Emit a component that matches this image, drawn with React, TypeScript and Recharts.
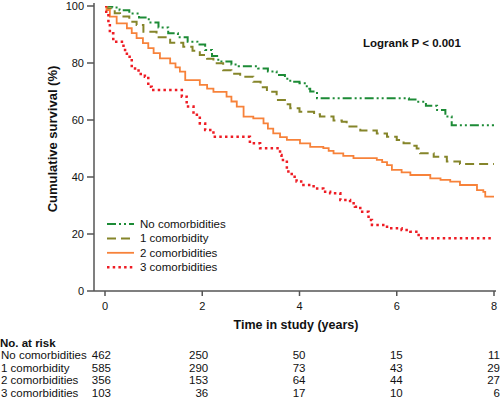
import React from 'react';
import { LineChart, Line, XAxis, YAxis, Legend, Customized } from 'recharts';

const FONT = '"Liberation Sans", Arial, sans-serif';

const seriesNames = ['No comorbidities', '1 comorbidity', '2 comorbidities', '3 comorbidities'];
const seriesColors = ['#1c8b36', '#85852a', '#f7823a', '#ee1c24'];
const seriesDashes = ['9 3 2 3 2 3', '9 5', undefined, '2.5 3.2'];
const seriesWidths = [2, 2, 1.8, 2.5];

const timesNone = [0, 0.15, 0.3, 0.5, 0.7, 0.9, 1.1, 1.3, 1.5, 1.7, 1.9, 2.06, 2.2, 2.33, 2.6, 2.75, 3.15, 3.35, 3.53, 3.7, 3.81, 4.0, 4.15, 4.22, 4.36, 6.25, 6.41, 6.6, 6.83, 7.0, 7.13, 8];
const survNone = [100, 99.5, 98.5, 97.4, 96, 94.2, 92.5, 90.4, 89, 87.5, 86.5, 84.6, 82.5, 80.5, 79.5, 78.9, 78.1, 77, 75.8, 74.5, 73.4, 72.9, 71, 70, 67.6, 67.2, 66.4, 65, 63.5, 61.2, 58.2, 58.2];

const timesOne = [0, 0.05, 0.2, 0.31, 0.5, 0.65, 0.79, 1.06, 1.34, 1.61, 1.8, 1.95, 2.1, 2.23, 2.43, 2.6, 2.78, 3.05, 3.2, 3.33, 3.53, 3.7, 3.81, 4.0, 4.3, 4.42, 4.7, 4.87, 4.97, 5.25, 5.59, 5.8, 6.0, 6.14, 6.3, 6.41, 6.48, 6.76, 7.03, 7.3, 8];
const survOne = [100, 99.2, 97.5, 96.3, 94.5, 93.3, 91, 89, 87.1, 85.7, 84.3, 82.8, 81.5, 79.9, 77.5, 76.2, 75.2, 73.4, 71.5, 69.9, 67, 65.5, 64.1, 62.9, 62, 61.2, 59.8, 59.4, 57.7, 56.3, 55.3, 54.1, 53, 51.8, 51, 50, 48.3, 47.1, 45.4, 44.6, 44.6];

const timesTwo = [0, 0.03, 0.1, 0.24, 0.45, 0.55, 0.65, 0.78, 0.89, 1.0, 1.13, 1.34, 1.45, 1.54, 1.65, 1.95, 2.1, 2.23, 2.5, 2.6, 2.71, 2.85, 3.05, 3.26, 3.35, 3.46, 3.6, 3.74, 4.01, 4.22, 4.49, 4.6, 4.7, 4.9, 5.11, 5.59, 5.7, 5.8, 5.9, 6.1, 6.28, 6.69, 6.9, 7.1, 7.3, 7.65, 7.78, 7.82, 8];
const survTwo = [100, 98.6, 96.3, 93.9, 92.2, 90.5, 88.7, 87, 85.2, 83.5, 81.6, 79.9, 78.5, 77, 74, 72.3, 71, 69.9, 68.2, 66.5, 64.7, 61.2, 60.6, 58.8, 57, 55.3, 54, 53, 51.8, 50.6, 50.1, 49.2, 48.3, 47.4, 46.6, 46, 45.2, 44.2, 42.5, 41.6, 40.7, 39.5, 39, 38.4, 37.2, 35.4, 34.8, 33.1, 33.1];

const timesThree = [0, 0.02, 0.07, 0.1, 0.17, 0.38, 0.45, 0.55, 0.69, 0.82, 0.89, 0.96, 1.58, 1.68, 1.82, 1.95, 2.06, 2.23, 2.98, 3.19, 3.6, 3.63, 3.74, 3.84, 3.94, 4.08, 4.29, 4.49, 4.63, 4.84, 5.04, 5.14, 5.25, 5.42, 5.49, 5.8, 6.1, 6.28, 6.45, 8];
const survThree = [100, 98, 93.9, 90.4, 87.5, 84.6, 82.2, 78.1, 76.1, 75.2, 71.7, 70.5, 68.2, 64.7, 61.8, 58.8, 56.5, 54.1, 51.8, 50.1, 47.7, 46, 41.9, 40.1, 38.4, 37.2, 36, 34.8, 34.3, 31.9, 30.8, 29.6, 27.8, 24.9, 23.2, 22, 21.4, 20.8, 18.5, 18.5];

const yearTicks = [0, 2, 4, 6, 8];
const survivalTicks = [0, 20, 40, 60, 80, 100];

const riskNone = [462, 250, 50, 15, 11];
const riskOne = [585, 290, 73, 43, 29];
const riskTwo = [356, 153, 64, 44, 27];
const riskThree = [103, 36, 17, 10, 6];

const riskRows = [riskNone, riskOne, riskTwo, riskThree];
const riskTable = yearTicks.map((t, i) => ({ t, r0: riskNone[i], r1: riskOne[i], r2: riskTwo[i], r3: riskThree[i] }));

const seriesData = [
  [timesNone, survNone],
  [timesOne, survOne],
  [timesTwo, survTwo],
  [timesThree, survThree],
].map(([ts, ss]) => ts.map((t, i) => ({ t, s: ss[i] })));

const xPadding = { left: 11, right: 2 };

const makeRiskTick = (row: number) => (props: any) => {
  const { x, y, payload, index } = props;
  const idx = yearTicks.indexOf(Number(payload.value));
  return (
    <g>
      {index === 0 && (
        <text x={1} y={y + 11} fontSize={11.5} fontFamily={FONT} fill="#111" textAnchor="start">
          {seriesNames[row]}
        </text>
      )}
      <text x={x + 6} y={y + 11} fontSize={11.5} fontFamily={FONT} fill="#111" textAnchor="end">
        {riskRows[row][idx]}
      </text>
    </g>
  );
};

const LegendContent = () => (
  <svg width={200} height={62}>
    {seriesNames.map((name, i) => {
      const cy = 9 + i * 14.4;
      return (
        <g key={name}>
          <line
            x1={7}
            x2={34}
            y1={cy}
            y2={cy}
            stroke={seriesColors[i]}
            strokeWidth={seriesWidths[i]}
            strokeDasharray={seriesDashes[i]}
          />
          <text x={40} y={cy + 4} fontSize={11.5} fontFamily={FONT} fill="#111">
            {name}
          </text>
        </g>
      );
    })}
  </svg>
);

const Annotations = () => (
  <g fontFamily={FONT}>
    <text x={363} y={47} fontSize={11.5} fontWeight="bold" fill="#111">
      Logrank P &lt; 0.001
    </text>
    <text x={296} y={329} fontSize={12.5} fontWeight="bold" fill="#111" textAnchor="middle">
      Time in study (years)
    </text>
    <text x={0} y={347} fontSize={11.5} fontWeight="bold" fill="#111">
      No. at risk
    </text>
    <text
      x={57}
      y={139}
      fontSize={13}
      fontWeight="bold"
      fill="#111"
      textAnchor="middle"
      transform="rotate(-90 57 139)"
    >
      Cumulative survival (%)
    </text>
  </g>
);

export default function App() {
  return (
    <div style={{ position: 'absolute', left: 0, top: 0, width: 500, height: 398, background: '#fff' }}>
      <LineChart width={500} height={398} data={riskTable} margin={{ top: 3, right: 4, bottom: 0, left: 0 }}>
        <XAxis
          xAxisId="main"
          dataKey="t"
          type="number"
          domain={[0, 8]}
          ticks={yearTicks}
          interval={0}
          allowDataOverflow
          padding={xPadding}
          height={57}
          tickSize={5}
          tickMargin={6}
          stroke="#555"
          strokeWidth={1.5}
          tick={{ fontSize: 11, fontFamily: FONT, fill: '#111' }}
        />
        {riskRows.map((_, i) => (
          <XAxis
            key={i}
            xAxisId={`risk${i}`}
            dataKey="t"
            type="number"
            domain={[0, 8]}
            ticks={yearTicks}
            interval={0}
            allowDataOverflow
            padding={xPadding}
            height={12.5}
            axisLine={false}
            tickLine={false}
            tickSize={0}
            tickMargin={0}
            tick={makeRiskTick(i)}
          />
        ))}
        <YAxis
          type="number"
          domain={[0, 100]}
          ticks={survivalTicks}
          interval={0}
          allowDataOverflow
          width={94}
          padding={{ top: 3, bottom: 0 }}
          tickSize={7}
          tickMargin={3}
          stroke="#555"
          strokeWidth={1.5}
          tick={{ fontSize: 11, fontFamily: FONT, fill: '#111' }}
        />
        <YAxis yAxisId="riskY" hide domain={[0, 1000]} />
        {riskRows.map((_, i) => (
          <Line
            key={`riskline${i}`}
            xAxisId={`risk${i}`}
            yAxisId="riskY"
            dataKey={`r${i}`}
            stroke="none"
            strokeOpacity={0}
            dot={false}
            activeDot={false}
            legendType="none"
            isAnimationActive={false}
          />
        ))}
        {seriesData.map((d, i) => (
          <Line
            key={seriesNames[i]}
            xAxisId="main"
            data={d}
            dataKey="s"
            name={seriesNames[i]}
            type="stepAfter"
            stroke={seriesColors[i]}
            strokeWidth={seriesWidths[i]}
            strokeDasharray={seriesDashes[i]}
            dot={false}
            activeDot={false}
            isAnimationActive={false}
          />
        ))}
        <Legend
          layout="horizontal"
          verticalAlign="middle"
          align="center"
          content={<LegendContent />}
          wrapperStyle={{ position: 'absolute', left: 100, top: 215, width: 200, height: 62 }}
        />
        <Customized component={<Annotations />} />
      </LineChart>
    </div>
  );
}
